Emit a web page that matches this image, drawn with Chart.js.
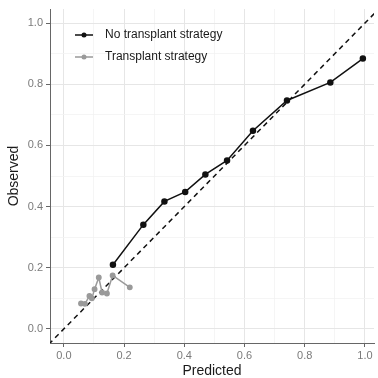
<!DOCTYPE html>
<html>
<head>
<meta charset="utf-8">
<script src="https://cdn.jsdelivr.net/npm/chart.js@4/dist/chart.umd.min.js"></script>
<style>
  html, body { margin: 0; padding: 0; background: #fff; }
  #wrap { width: 378px; height: 378px; }
</style>
</head>
<body>
<div id="wrap"><canvas id="chart" width="378" height="378"></canvas></div>
<script>
// observed vs predicted
const noTransplantPred = [0.163, 0.264, 0.334, 0.403, 0.470, 0.542, 0.628, 0.741, 0.885, 0.993]
const noTransplantObs  = [0.210, 0.341, 0.417, 0.448, 0.505, 0.551, 0.648, 0.747, 0.806, 0.884]
const transplantPred = [0.057, 0.070, 0.085, 0.093, 0.102, 0.116, 0.127, 0.143, 0.162, 0.219]
const transplantObs  = [0.083, 0.082, 0.108, 0.100, 0.130, 0.168, 0.119, 0.116, 0.175, 0.136]
const seriesLabels = ['No transplant strategy', 'Transplant strategy']
const tickValues = [0, 0.1, 0.2, 0.3, 0.4, 0.5, 0.6, 0.7, 0.8, 0.9, 1.0]
const xRange = [-0.046, 1.03]
const yRange = [-0.046, 1.046]

const toPoints = (xs, ys) => xs.map((x, i) => ({ x: x, y: ys[i] }))
const isMajor = v => Math.round(v * 10) % 2 === 0

const legendInside = {
  id: 'legendInside',
  afterDraw (chart) {
    const ctx = chart.ctx
    const area = chart.chartArea
    ctx.save()
    chart.data.datasets.slice(0, 2).forEach((ds, i) => {
      const y = area.top + 26 + i * 22
      const x0 = area.left + 25
      ctx.strokeStyle = ds.borderColor
      ctx.lineWidth = 1.5
      ctx.beginPath()
      ctx.moveTo(x0, y)
      ctx.lineTo(x0 + 18, y)
      ctx.stroke()
      ctx.fillStyle = ds.borderColor
      ctx.beginPath()
      ctx.arc(x0 + 9, y, 2.5, 0, Math.PI * 2)
      ctx.fill()
      ctx.fillStyle = '#1a1a1a'
      ctx.font = '12px "Liberation Sans", Arial, sans-serif'
      ctx.textBaseline = 'middle'
      ctx.fillText(ds.label, x0 + 30, y)
    })
    ctx.restore()
  }
}

const axisOptions = (title, isX, range) => ({
  type: 'linear',
  min: range[0],
  max: range[1],
  afterBuildTicks: scale => { scale.ticks = tickValues.map(v => ({ value: v })) },
  afterFit: scale => {
    if (isX) {
      scale.height = 37
      scale.paddingLeft = 0
      scale.paddingRight = 0
    } else {
      scale.width = 50
      scale.paddingTop = 0
      scale.paddingBottom = 0
    }
  },
  border: { display: true, color: '#666', width: 1 },
  grid: {
    color: c => (c.tick && isMajor(c.tick.value)) ? '#e6e6e6' : '#f2f2f2',
    lineWidth: c => (c.tick && isMajor(c.tick.value)) ? 1 : 0.8,
    tickColor: c => (c.tick && isMajor(c.tick.value)) ? '#666' : 'rgba(0,0,0,0)',
    tickLength: 4,
    drawTicks: true
  },
  ticks: {
    autoSkip: false,
    maxRotation: 0,
    color: '#7a7a7a',
    padding: isX ? 2 : 3,
    font: { size: 11, family: '"Liberation Sans", Arial, sans-serif' },
    callback: v => isMajor(v) ? v.toFixed(1) : ''
  },
  title: {
    display: true,
    text: title,
    color: '#1a1a1a',
    font: { size: 14, family: '"Liberation Sans", Arial, sans-serif' },
    padding: isX ? { top: 7, bottom: 0 } : { top: 6, bottom: 0 }
  }
})

new Chart(document.getElementById('chart'), {
  type: 'scatter',
  data: {
    datasets: [
      {
        label: seriesLabels[0],
        data: toPoints(noTransplantPred, noTransplantObs),
        showLine: true,
        borderColor: '#111',
        backgroundColor: '#111',
        borderWidth: 1.5,
        pointRadius: 2.5,
        pointHoverRadius: 2.5
      },
      {
        label: seriesLabels[1],
        data: toPoints(transplantPred, transplantObs),
        showLine: true,
        borderColor: '#9a9a9a',
        backgroundColor: '#9a9a9a',
        borderWidth: 1.5,
        pointRadius: 2.2,
        pointHoverRadius: 2.2
      },
      {
        label: '',
        data: toPoints([-0.05, 1.05], [-0.05, 1.05]),
        showLine: true,
        borderColor: '#111',
        borderWidth: 1.5,
        borderDash: [5, 4],
        pointRadius: 0
      }
    ]
  },
  options: {
    responsive: false,
    animation: false,
    layout: { padding: { left: 0, right: 0, top: 9, bottom: -2 } },
    plugins: {
      legend: { display: false },
      tooltip: { enabled: false }
    },
    scales: {
      x: axisOptions('Predicted', true, xRange),
      y: axisOptions('Observed', false, yRange)
    }
  },
  plugins: [legendInside]
})
</script>
</body>
</html>
